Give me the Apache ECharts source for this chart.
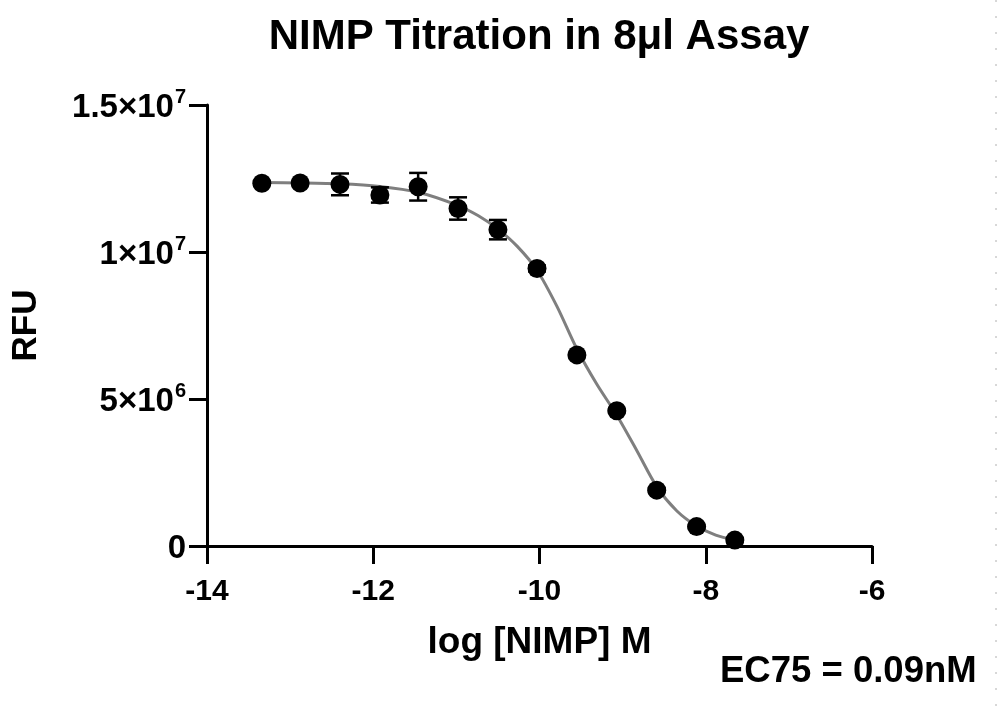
<!DOCTYPE html>
<html>
<head>
<meta charset="utf-8">
<script src="https://cdn.jsdelivr.net/npm/echarts@6/dist/echarts.min.js"></script>
<style>
  html, body { margin: 0; padding: 0; background: #fff; }
  #chart { width: 1000px; height: 709px; }
</style>
</head>
<body>
<div id="chart"></div>
<script>
// ---- data ----
const xVals = [-13.34, -12.88, -12.40, -11.92, -11.46, -10.98, -10.50, -10.03, -9.55, -9.07, -8.59, -8.11, -7.65];
const yVals = [12.34e6, 12.35e6, 12.30e6, 11.94e6, 12.22e6, 11.48e6, 10.76e6, 9.44e6, 6.50e6, 4.60e6, 1.90e6, 0.66e6, 0.20e6];
const yErr  = [0.05e6, 0.05e6, 0.37e6, 0.26e6, 0.47e6, 0.38e6, 0.33e6, 0.10e6, 0.05e6, 0.05e6, 0.05e6, 0.05e6, 0.05e6];
// fitted curve
const curveX = [-13.34, -12.88, -12.40, -11.92, -11.46, -10.98, -10.74, -10.50, -10.27, -10.03, -9.79, -9.55, -9.31, -9.07, -8.83, -8.59, -8.35, -8.11, -7.88, -7.65];
const curveY = [12.36e6, 12.35e6, 12.32e6, 12.23e6, 12.03e6, 11.58e6, 11.24e6, 10.78e6, 10.20e6, 9.38e6, 8.15e6, 6.70e6, 5.50e6, 4.45e6, 3.25e6, 2.02e6, 1.20e6, 0.68e6, 0.37e6, 0.20e6];
const xTicks = [-14, -12, -10, -8, -6];
const yTickValues = [0, 5e6, 1e7, 1.5e7];
const yTickMant = ['0', '5', '1', '1.5'];
const yTickExp = ['', '6', '7', '7'];
const titleText = 'NIMP Titration in 8\u03bcl Assay';
const xName = 'log [NIMP] M';
const yName = 'RFU';
const noteText = 'EC75 = 0.09nM';

const FONT = '"Liberation Sans", Arial, Helvetica, sans-serif';

const pts = xVals.map((x, i) => [x, yVals[i]]);
const errData = xVals.map((x, i) => [x, yVals[i], yErr[i]]);
const curve = curveX.map((x, i) => [x, curveY[i]]);

const chart = echarts.init(document.getElementById('chart'), null, { renderer: 'canvas' });

chart.setOption({
  backgroundColor: '#fff',
  animation: false,
  title: [
    {
      text: titleText,
      left: 534, top: 11, textAlign: 'center',
      textStyle: { fontFamily: FONT, fontWeight: 'bold', fontSize: 42, color: '#000' }
    },
    {
      text: noteText,
      left: 715, top: 648,
      textStyle: { fontFamily: FONT, fontWeight: 'bold', fontSize: 36.5, color: '#000' }
    }
  ],
  grid: { left: 207, right: 128, top: 105, bottom: 163, containLabel: false },
  xAxis: {
    type: 'value', min: -14, max: -6, interval: 2,
    name: xName, nameLocation: 'middle', nameGap: 78,
    nameTextStyle: { fontFamily: FONT, fontWeight: 'bold', fontSize: 37, color: '#000' },
    axisLine: { show: true, onZero: false, lineStyle: { color: '#000', width: 3 } },
    axisTick: { show: true, inside: false, length: 18, lineStyle: { color: '#000', width: 3 } },
    axisLabel: {
      margin: 31, color: '#000', fontFamily: FONT, fontWeight: 'bold', fontSize: 30,
      formatter: v => xTicks.indexOf(v) >= 0 ? String(v) : ''
    },
    splitLine: { show: false }
  },
  yAxis: {
    type: 'value', min: 0, max: 1.5e7, interval: 5e6,
    name: yName, nameLocation: 'middle', nameGap: 163, nameRotate: 90,
    nameTextStyle: { fontFamily: FONT, fontWeight: 'bold', fontSize: 35, color: '#000' },
    axisLine: { show: true, onZero: false, lineStyle: { color: '#000', width: 3 } },
    axisTick: { show: true, inside: false, length: 18, lineStyle: { color: '#000', width: 3 } },
    axisLabel: {
      margin: 21, color: '#000',
      formatter: v => {
        const i = yTickValues.indexOf(v);
        if (i < 0) return '';
        if (!yTickExp[i]) return '{b|' + yTickMant[i] + '}';
        return '{b|' + yTickMant[i] + '\u00d710}{s|' + yTickExp[i] + '}';
      },
      rich: {
        b: { fontFamily: FONT, fontWeight: 'bold', fontSize: 33, color: '#000', lineHeight: 38, verticalAlign: 'bottom' },
        s: { fontFamily: FONT, fontWeight: 'bold', fontSize: 20, color: '#000', lineHeight: 38, verticalAlign: 'top', padding: [1, 0, 0, 1] }
      }
    },
    splitLine: { show: false }
  },
  series: [
    {
      type: 'line', data: curve, smooth: 0.3, symbol: 'none', z: 1,
      lineStyle: { color: '#7f7f7f', width: 3 }
    },
    {
      type: 'custom', z: 2, data: errData,
      renderItem: (params, api) => {
        const x = api.value(0), y = api.value(1), e = api.value(2);
        const top = api.coord([x, y + e]);
        const bot = api.coord([x, y - e]);
        const hw = 9;
        const style = { stroke: '#000', lineWidth: 2.5 };
        return {
          type: 'group',
          children: [
            { type: 'line', shape: { x1: top[0], y1: top[1], x2: bot[0], y2: bot[1] }, style },
            { type: 'line', shape: { x1: top[0] - hw, y1: top[1], x2: top[0] + hw, y2: top[1] }, style },
            { type: 'line', shape: { x1: bot[0] - hw, y1: bot[1], x2: bot[0] + hw, y2: bot[1] }, style }
          ]
        };
      }
    },
    {
      type: 'scatter', data: pts, symbol: 'circle', symbolSize: 19, z: 3,
      itemStyle: { color: '#000', opacity: 1 }
    }
  ],
  graphic: [
    {
      type: 'line', silent: true,
      shape: { x1: 996, y1: 0, x2: 996, y2: 709 },
      style: { stroke: '#b0b0b0', lineWidth: 1, lineDash: [2, 14] }
    }
  ]
});
</script>
</body>
</html>
